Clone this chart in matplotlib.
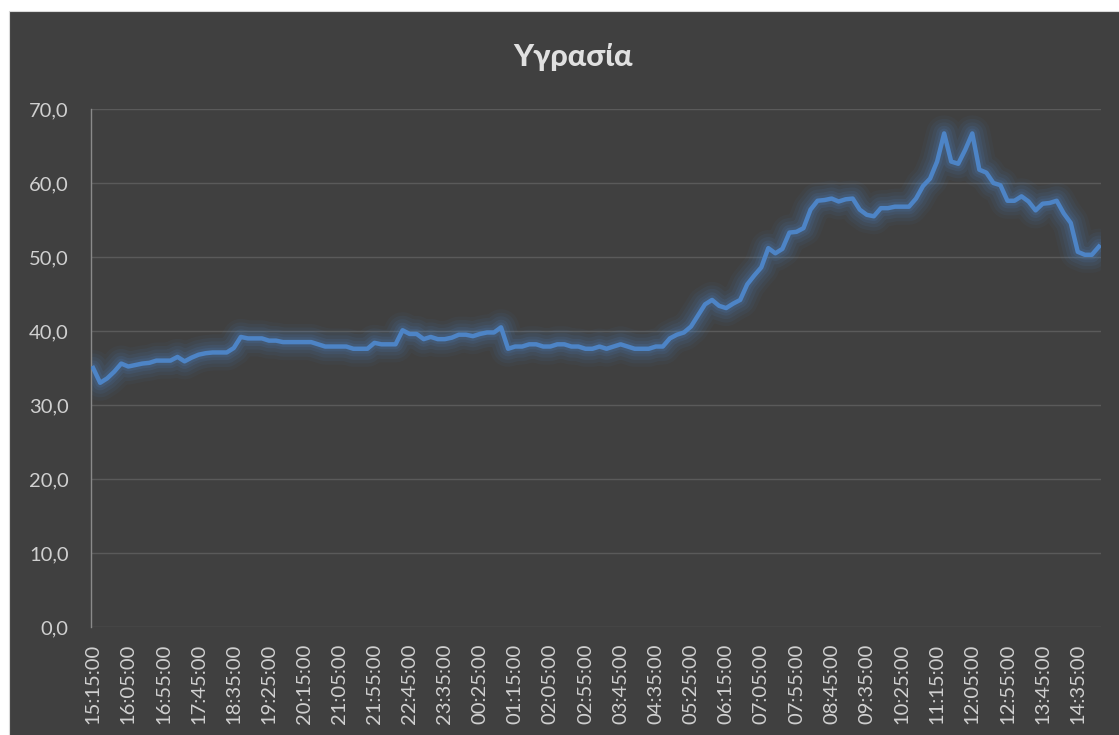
import numpy as np
import pandas as pd
import matplotlib
matplotlib.use('Agg')
import matplotlib.pyplot as plt
from matplotlib.patches import Rectangle
from matplotlib.ticker import FuncFormatter

plt.rcParams['font.family'] = ['Lato', 'DejaVu Sans']

# 10-minute readings, 15:15 -> 15:05 next day
times = pd.date_range('2020-01-01 15:15', periods=144, freq='10min').strftime('%H:%M:%S')

humidity = [
    35.0, 33.0, 33.6, 34.5, 35.6, 35.2, 35.4, 35.6, 35.7, 36.0,
    36.0, 36.0, 36.5, 35.9, 36.4, 36.8, 37.0, 37.1, 37.1, 37.1,
    37.7, 39.2, 39.0, 39.0, 39.0, 38.7, 38.7, 38.5, 38.5, 38.5,
    38.5, 38.5, 38.2, 37.9, 37.9, 37.9, 37.9, 37.6, 37.6, 37.6,
    38.4, 38.2, 38.2, 38.2, 40.1, 39.6, 39.6, 38.9, 39.2, 38.9,
    38.9, 39.1, 39.5, 39.5, 39.3, 39.6, 39.8, 39.8, 40.5, 37.6,
    37.9, 37.9, 38.2, 38.2, 37.9, 37.9, 38.2, 38.2, 37.9, 37.9,
    37.6, 37.6, 37.9, 37.6, 37.9, 38.2, 37.9, 37.6, 37.6, 37.6,
    37.9, 37.9, 39.0, 39.5, 39.8, 40.6, 42.1, 43.6, 44.2, 43.4,
    43.1, 43.7, 44.2, 46.3, 47.5, 48.6, 51.2, 50.5, 51.1, 53.3,
    53.4, 53.9, 56.4, 57.6, 57.7, 57.9, 57.5, 57.8, 57.9, 56.4,
    55.7, 55.5, 56.6, 56.6, 56.8, 56.8, 56.8, 57.9, 59.6, 60.6,
    62.9, 66.7, 62.9, 62.6, 64.5, 66.7, 61.8, 61.4, 60.0, 59.7,
    57.6, 57.6, 58.2, 57.5, 56.3, 57.2, 57.3, 57.6, 55.9, 54.6,
    50.7, 50.3, 50.3, 51.4,
]

bg = '#404040'
txt = '#d0d0d0'
blue = '#4d84c6'

fig = plt.figure(figsize=(11.19, 7.35), dpi=100)
fig.patch.set_facecolor('white')
# dark chart area (slightly cropped screenshot: white strip on top and left)
fig.add_artist(Rectangle((9 / 1119, -0.01), 1, 1.01 - 11 / 735, transform=fig.transFigure,
                         facecolor=bg, edgecolor='#d9d9d9', lw=0.8, zorder=-5))

ax = fig.add_axes([91 / 1119, 1 - 627 / 735, 1010 / 1119, 518 / 735])
ax.set_facecolor(bg)

x = np.arange(len(humidity))
# soft glow behind the line
for lw, a in [(26, 0.05), (21, 0.07), (16, 0.09), (11, 0.12), (7, 0.15)]:
    ax.plot(x, humidity, color=blue, lw=lw, alpha=a, solid_joinstyle='round',
            solid_capstyle='round', zorder=2)
ax.plot(x, humidity, color=blue, lw=3.2, solid_joinstyle='round', zorder=3)

ax.set_ylim(0, 70)
ax.set_yticks(np.arange(0, 71, 10))
ax.yaxis.set_major_formatter(FuncFormatter(lambda v, p: f'{v:.1f}'.replace('.', ',')))
ax.set_xlim(-0.3, len(humidity) - 0.7)
ax.set_xticks(x[::5])
ax.set_xticklabels(times[::5], rotation=90)

ax.grid(axis='y', color='#5a5a5a', lw=1.0)
ax.set_axisbelow(True)
for s in ['top', 'right', 'bottom']:
    ax.spines[s].set_visible(False)
ax.spines['left'].set_color('#8a8a8a')
ax.spines['left'].set_linewidth(1.0)
ax.tick_params(length=0, colors=txt, labelsize=14.5)
ax.tick_params(axis='y', pad=16)
ax.tick_params(axis='x', pad=12)

fig.text(573 / 1119, 1 - 57 / 735, 'Υγρασία', ha='center', va='center',
         fontsize=22, fontweight='black', color='#e0e0e0')

fig.savefig('out.png', dpi=100, facecolor=fig.get_facecolor())
